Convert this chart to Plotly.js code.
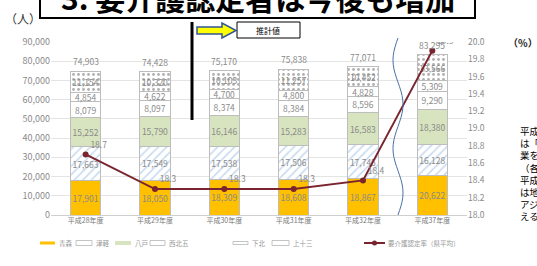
<!DOCTYPE html>
<html><head><meta charset="utf-8">
<script src="https://cdn.plot.ly/plotly-3.0.1.min.js"></script>
<style>body{margin:0;background:#fff}#c{width:537px;height:266px}</style>
</head><body><div id="c"></div>
<script>
const categories = ["平成28年度","平成29年度","平成30年度","平成31年度","平成32年度","平成37年度"];
const aomori   = [17901, 18050, 18309, 18608, 18867, 20622];
const tsugaru  = [17663, 17549, 17538, 17506, 17745, 16128];
const hachinohe= [15252, 15790, 16146, 15283, 16583, 18380];
const seihoku  = [8079, 8097, 8374, 8384, 8596, 9290];
const shimokita= [4854, 4622, 4700, 4800, 4828, 5309];
const kamitosa = [11154, 10320, 10103, 11257, 10452, 13566];
const totals   = [74903, 74428, 75170, 75838, 77071, 83295];
const rate     = [18.7, 18.3, 18.3, 18.3, 18.4, 19.9];
const leftTicks = [0,10000,20000,30000,40000,50000,60000,70000,80000,90000];
const rightTicks = [18.0,18.2,18.4,18.6,18.8,19.0,19.2,19.4,19.6,19.8,20.0];
const seriesNames = ["青森","津軽","八戸","西北五","下北","上十三"];
const lineName = "要介護認定率（県平均）";
const noteLines = ["平成","は「","業を","（各","平成","は地","アジ","える"];

const F = "Noto Sans CJK JP, Noto Sans, sans-serif";
const txtFont = {family:F, size:8.5, color:"#8a8a8a"};
const colors = ["#FFC000","#ffffff","#d8e4bf","#ffffff","#ffffff","#ffffff"];
const patterns = [null, {shape:"/", fgcolor:"#c5d9ee", bgcolor:"#ffffff", size:6, solidity:0.25}, null, null, null,
                  {shape:".", fgcolor:"#b0b0b0", bgcolor:"#ffffff", size:5, solidity:0.25}];
const values = [aomori, tsugaru, hachinohe, seihoku, shimokita, kamitosa];
const traces = values.map((y,k)=>{
  const t = {type:"bar", name:seriesNames[k], x:categories, y:y, showlegend:false,
    marker:{color:colors[k], line:{color:"#bdbdbd", width:1}},
    texttemplate:"%{y:,}", textposition:"inside", insidetextanchor:"middle",
    textangle:0, textfont:txtFont, hoverinfo:"skip"};
  if(patterns[k]) t.marker.pattern = patterns[k];
  return t;
});
traces.push({type:"scatter", mode:"lines+markers+text", name:lineName, x:categories, y:rate, yaxis:"y2", showlegend:false,
   line:{color:"#7a2430", width:2}, marker:{color:"#7a2430", size:6},
   text:rate.map(v=>v.toFixed(1)), textposition:"top right", textfont:{family:F,size:8.5,color:"#8a8a8a"}});

const L=51, R=467, T=42, B=215;
const px = v => (v-L)/(R-L);
const py = v => (B-v)/(B-T);

let wave = "";
const n = 4;
for(let i=0;i<=n*10;i++){
  const yy = 38 + (215-38)*i/(n*10);
  const xx = 398 - 5*Math.sin(i/10*Math.PI);
  wave += (i===0?"M":"L") + px(xx).toFixed(4) + "," + py(yy).toFixed(4) + " ";
}
const arrow = "M"+px(197)+","+py(27)+" L"+px(222)+","+py(27)+" L"+px(222)+","+py(23)+" L"+px(236)+","+py(30.5)+
  " L"+px(222)+","+py(38)+" L"+px(222)+","+py(34)+" L"+px(197)+","+py(34)+" Z";

const shapes = [
  {type:"rect", xref:"paper", yref:"paper", x0:px(40), x1:px(475), y0:py(18), y1:py(-20), line:{color:"#000",width:2}, fillcolor:"#fff", layer:"above"},
  {type:"path", xref:"paper", yref:"paper", path:wave, line:{color:"#4a6fa8", width:1}},
  {type:"line", xref:"paper", yref:"paper", x0:px(192), x1:px(192), y0:py(22), y1:py(120), line:{color:"#000", width:3}},
  {type:"rect", xref:"paper", yref:"paper", x0:px(237), x1:px(300), y0:py(38), y1:py(22), line:{color:"#000",width:1}, fillcolor:"#fff"},
  {type:"path", xref:"paper", yref:"paper", path:arrow, line:{color:"#2f5597",width:1.5}, fillcolor:"#ffff00"}
];

const annotations = [
  {xref:"paper", yref:"paper", x:px(258), y:py(-3), text:"<b>3. 要介護認定者は今後も増加</b>", showarrow:false,
   font:{family:F,size:30,color:"#000"}, xanchor:"center", yanchor:"middle"},
  {xref:"paper", yref:"paper", x:px(3), y:py(18), text:"（人）", showarrow:false, font:{family:F,size:12,color:"#333"}, xanchor:"left", yanchor:"middle"},
  {xref:"paper", yref:"paper", x:px(506), y:py(42), text:"<b>（%）</b>", showarrow:false, font:{family:F,size:10,color:"#222"}, xanchor:"left", yanchor:"middle"},
  {xref:"paper", yref:"paper", x:px(268), y:py(30), text:"推計値", showarrow:false, font:{family:F,size:8,color:"#000"}, xanchor:"center", yanchor:"middle"}
];
noteLines.forEach((s,i)=>annotations.push({xref:"paper", yref:"paper", x:px(519), y:py(131+i*12.2), text:s, showarrow:false,
  font:{family:F,size:9.5,color:"#000"}, xanchor:"left", yanchor:"middle", borderpad:0}));
categories.forEach((c,i)=>annotations.push({x:c, y:totals[i], xref:"x", yref:"y", text:totals[i].toLocaleString("en-US"),
  showarrow:false, yanchor:"bottom", yshift:2, font:{family:F,size:8.5,color:"#8a8a8a"}}));

const LY = 243;
const legSw = [[40,55],[76,92],[115,131],[150,165],[233,248],[272,289]];
const legFill = ["#FFC000","#ffffff","#d8e4bf","#ffffff","#ffffff","#ffffff"];
const legH = [1.5,2.5,2,2.5,1.5,2.5];
legSw.forEach((s,k)=>{
  shapes.push({type:"rect", xref:"paper", yref:"paper", x0:px(s[0]), x1:px(s[1]), y0:py(LY+legH[k]), y1:py(LY-legH[k]),
    fillcolor:legFill[k], line:{color: k===0?"#FFC000":(k===2?"#d8e4bf":"#b5b5b5"), width: k===0||k===2?0:0.8}});
  annotations.push({xref:"paper", yref:"paper", x:px(s[1]+2), y:py(LY), text:seriesNames[k], showarrow:false,
    font:{family:F,size:6.5,color:"#999"}, xanchor:"left", yanchor:"middle"});
});
shapes.push({type:"line", xref:"paper", yref:"paper", x0:px(364), x1:px(385), y0:py(LY), y1:py(LY), line:{color:"#7a2430", width:2}});
shapes.push({type:"circle", xref:"paper", yref:"paper", x0:px(372), x1:px(377), y0:py(LY+2.5), y1:py(LY-2.5), fillcolor:"#7a2430", line:{width:0}});
annotations.push({xref:"paper", yref:"paper", x:px(386), y:py(LY), text:lineName, showarrow:false,
    font:{family:F,size:6.5,color:"#999"}, xanchor:"left", yanchor:"middle"});

const layout = {
  width:537, height:266, margin:{l:L, r:537-R, t:T, b:266-B},
  paper_bgcolor:"#fff", plot_bgcolor:"#fff",
  barmode:"stack", bargap:0.56,
  uniformtext:{mode:"show", minsize:8.5},
  font:{family:F, size:8, color:"#888"},
  xaxis:{type:"category", showgrid:false, showline:false, ticks:"", tickfont:{family:F,size:7,color:"#777"}},
  yaxis:{range:[0,90000], tickvals:leftTicks, tickformat:",", gridcolor:"#e4e4e4", zeroline:true, zerolinecolor:"#cfcfcf",
         tickfont:{family:F,size:9,color:"#8a8a8a"}, showline:false},
  yaxis2:{overlaying:"y", side:"right", range:[18,20], tickvals:rightTicks, tickformat:".1f", showgrid:false, zeroline:false,
          tickfont:{family:F,size:8.5,color:"#8a8a8a"}},
  showlegend:false,
  shapes:shapes, annotations:annotations
};
Plotly.newPlot("c", traces, layout, {staticPlot:true, displayModeBar:false});
</script></body></html>
